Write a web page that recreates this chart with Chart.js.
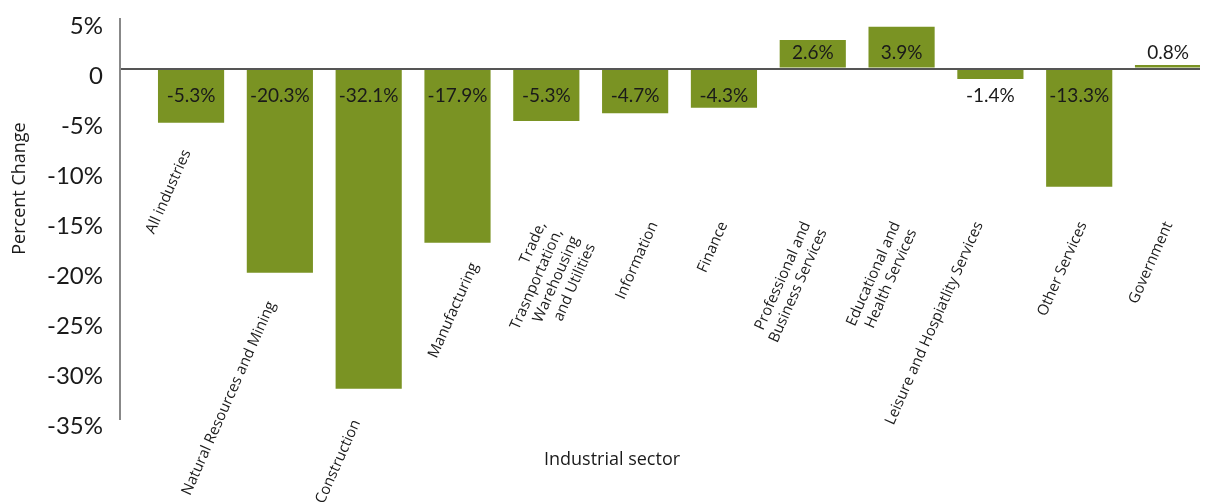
<!DOCTYPE html>
<html>
<head>
<meta charset="utf-8">
<title>Percent change by industrial sector</title>
<script src="https://cdn.jsdelivr.net/npm/chart.js@4.4.1/dist/chart.umd.min.js"></script>
<style>
    html, body { margin: 0; padding: 0; background: #fff; }
    #wrap { width: 1207px; height: 502px; }
</style>
</head>
<body>
<div id="wrap"><canvas id="sectorChart" width="1207" height="502"></canvas></div>
<script>
// Ngành (mỗi phần tử là các dòng của nhãn)
const categories = [
    ['All industries'],
    ['Natural Resources and Mining'],
    ['Construction'],
    ['Manufacturing'],
    ['Trade,', 'Trasnportation,', 'Warehousing', 'and Utilities'],
    ['Information'],
    ['Finance'],
    ['Professional and', 'Business Services'],
    ['Educational and', 'Health Services'],
    ['Leisure and Hospiatlity Services'],
    ['Other Services'],
    ['Government']
];

// Chiều cao cột
const barValues = [-5.42, -20.42, -32.02, -17.42, -5.25, -4.48, -3.92, 2.85, 4.18, -1.05, -11.82, 0.35];

// Nhãn số in trên hình
const valueLabels = ['-5.3%', '-20.3%', '-32.1%', '-17.9%', '-5.3%', '-4.7%', '-4.3%', '2.6%', '3.9%', '-1.4%', '-13.3%', '0.8%'];

// Trục Y
const yTicks = [5, 0, -5, -10, -15, -20, -25, -30, -35];

const barColor = '#7a9323';
const textColor = '#1a1a1a';

// Vị trí đầu nhãn ngành: [lệch ngang so với tâm cột (px), mức trên trục Y]
const labelPlacement = [
    [-11, -7.9], [-15, -23.07], [-19, -34.9], [10, -19.2],
    [-11, -15.1], [12, -15.1], [-7, -15.1], [-13, -15.1],
    [-12, -15.1], [-18, -15.1], [-3, -15.1], [-6, -15.1]
];

// Vẽ nhãn số, nhãn ngành và tiêu đề trục
const labelPlugin = {
    id: 'sectorLabels',
    afterDatasetsDraw(chart) {
        const ctx = chart.ctx;
        const meta = chart.getDatasetMeta(0);
        const yScale = chart.scales.y;
        const zero = yScale.getPixelForValue(0);
        const area = chart.chartArea;

        ctx.save();
        ctx.fillStyle = textColor;

        // nhãn giá trị
        ctx.font = '19px Lato';
        ctx.textAlign = 'center';
        ctx.textBaseline = 'middle';
        meta.data.forEach((bar, i) => {
            const ly = barValues[i] < 0 ? zero + 27 : zero - 16;
            ctx.fillText(valueLabels[i], bar.x, ly);
        });

        // nhãn ngành, xoay nghiêng
        ctx.font = '15px "Open Sans"';
        ctx.textAlign = 'right';
        ctx.textBaseline = 'top';
        meta.data.forEach((bar, i) => {
            const [dx, level] = labelPlacement[i];
            ctx.save();
            ctx.translate(bar.x + dx, yScale.getPixelForValue(level));
            ctx.rotate(-66 * Math.PI / 180);
            categories[i].forEach((line, k) => ctx.fillText(line, 0, k * 18));
            ctx.restore();
        });

        // tiêu đề trục
        ctx.font = '18px "Open Sans"';
        ctx.textAlign = 'center';
        ctx.textBaseline = 'middle';
        ctx.fillText('Industrial sector', area.left + 492, 460);

        ctx.save();
        ctx.translate(20, yScale.getPixelForValue(-12));
        ctx.rotate(-Math.PI / 2);
        ctx.fillText('Percent Change', 0, 0);
        ctx.restore();

        ctx.restore();
    }
};

const chart = new Chart(document.getElementById('sectorChart'), {
    type: 'bar',
    data: {
        datasets: [{
            data: barValues.map((v, i) => ({ x: i, y: v })),
            backgroundColor: barColor,
            borderWidth: 0,
            barPercentage: 0.745,
            categoryPercentage: 1
        }]
    },
    options: {
        responsive: false,
        animation: false,
        layout: { padding: { top: 18.5, right: 7, bottom: 83.5, left: 0 } },
        plugins: {
            legend: { display: false },
            tooltip: { enabled: false }
        },
        scales: {
            x: {
                type: 'linear',
                offset: false,
                min: -0.8,
                max: 11.36,
                display: false,
                // mỗi ngành một vạch để độ rộng cột tính theo khoảng cách ngành
                afterBuildTicks: (scale) => { scale.ticks = categories.map((c, i) => ({ value: i })); }
            },
            y: {
                min: Math.min(...yTicks),
                max: Math.max(...yTicks),
                afterBuildTicks: (scale) => { scale.ticks = yTicks.map(v => ({ value: v })); },
                afterFit: (scale) => {
                    scale.width = 120;
                    scale.paddingTop = 0;
                    scale.paddingBottom = 0;
                },
                ticks: {
                    color: textColor,
                    font: { family: 'Lato', size: 24 },
                    padding: 17,
                    labelOffset: 7.5,
                    callback: (v) => v === 0 ? '0' : v + '%'
                },
                grid: {
                    drawTicks: false,
                    z: 1,
                    lineWidth: 2,
                    color: (c) => c.tick && c.tick.value === 0 ? '#555555' : 'rgba(0,0,0,0)'
                },
                border: { color: '#888888', width: 2, z: 2 }
            }
        }
    },
    plugins: [labelPlugin]
});
</script>
</body>
</html>
